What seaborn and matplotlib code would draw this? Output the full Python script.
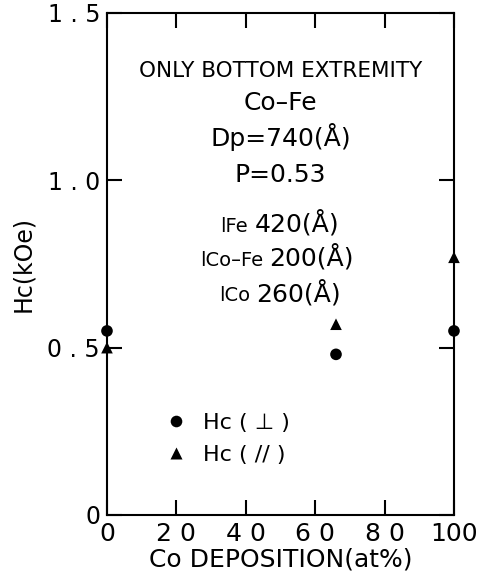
import matplotlib
matplotlib.use("Agg")
import matplotlib.pyplot as plt
import seaborn as sns
import pandas as pd

# Coercivity vs Co deposition (bottom extremity only)
co_deposition = [0, 66, 100]
hc_perp = [0.55, 0.48, 0.55]
hc_para = [0.50, 0.57, 0.77]

x_ticks = [0, 20, 40, 60, 80, 100]
x_tick_labels = ["0", "2 0", "4 0", "6 0", "8 0", "100"]
y_ticks = [0, 0.5, 1.0, 1.5]
y_tick_labels = ["0", "0 . 5", "1 . 0", "1 . 5"]

series_labels = ["Hc ( \u22a5 )", "Hc ( // )"]

df = pd.concat([
    pd.DataFrame({"x": co_deposition, "hc": hc_perp, "kind": series_labels[0]}),
    pd.DataFrame({"x": co_deposition, "hc": hc_para, "kind": series_labels[1]}),
])

sns.set_style("ticks")
plt.rcParams["font.family"] = ["DejaVu Sans"]
plt.rcParams["text.color"] = "black"
plt.rcParams["axes.labelcolor"] = "black"

fig = plt.figure(figsize=(4.83, 5.74), dpi=100)
ax = fig.add_axes([0.2215, 0.1028, 0.7184, 0.8746])

sns.scatterplot(
    data=df, x="x", y="hc", style="kind",
    markers={series_labels[0]: "o", series_labels[1]: "^"},
    color="black", s=70, edgecolor="none", ax=ax, clip_on=False, zorder=5,
)

ax.set_xlim(0, 100)
ax.set_ylim(0, 1.5)
ax.set_xticks(x_ticks)
ax.set_xticklabels(x_tick_labels, fontsize=18)
ax.set_yticks(y_ticks)
ax.set_yticklabels(y_tick_labels, fontsize=17)
ax.tick_params(direction="in", length=11, width=1.5, top=True, right=True,
               color="black", labelcolor="black", pad=5)
for sp in ax.spines.values():
    sp.set_linewidth(1.5)
    sp.set_color("black")

ax.set_xlabel("Co DEPOSITION(at%)", fontsize=18, labelpad=1)
ax.set_ylabel("Hc(kOe)", fontsize=17, labelpad=9)

# annotation block
ax.text(50, 1.326, "ONLY BOTTOM EXTREMITY", ha="center", va="center", fontsize=15.5)
ax.text(50, 1.23, "Co\u2013Fe", ha="center", va="center", fontsize=18)
ax.text(50, 1.13, "Dp=740(\u00c5)", ha="center", va="center", fontsize=18)
ax.text(50, 1.015, "P=0.53", ha="center", va="center", fontsize=18)

# layer thicknesses: small symbol followed by value, sharing a baseline
thick_rows = [("lFe", "420(\u00c5)", 0.847, 41.5),
              ("lCo\u2013Fe", "200(\u00c5)", 0.744, 45.8),
              ("lCo", "260(\u00c5)", 0.639, 42.0)]
for sub, val, yv, xs in thick_rows:
    ax.text(xs - 0.8, yv, sub, ha="right", va="baseline", fontsize=14)
    ax.text(xs + 1.0, yv, val, ha="left", va="baseline", fontsize=18)

leg = ax.legend(loc="center left", bbox_to_anchor=(0.077, 0.152), frameon=False,
                fontsize=16, handletextpad=0.2, labelspacing=0.55, markerscale=1.0,
                title=None)

fig.savefig("out.png", dpi=100)
